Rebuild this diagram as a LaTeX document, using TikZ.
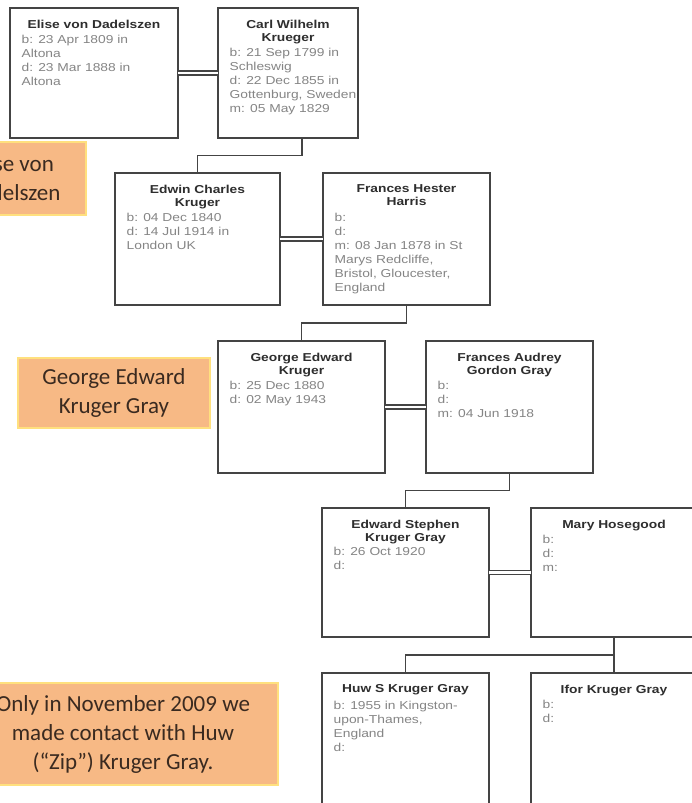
\documentclass[tikz,border=0pt]{standalone}
\usepackage{fontspec}
\newfontfamily\cardfont[FakeStretch=1.2]{Liberation Sans}
\newfontfamily\notefont{Carlito}
\definecolor{cardline}{HTML}{444444}
\definecolor{cardtitle}{HTML}{2E2E2E}
\definecolor{cardtext}{HTML}{858585}
\definecolor{notefill}{HTML}{F7B985}
\definecolor{noteedge}{HTML}{FFE07E}
\definecolor{notetext}{HTML}{3A2A20}

\tikzset{
  card/.style={draw=cardline, line width=1.8pt, fill=white, rectangle, inner sep=0pt, outer sep=0pt},
  cardname/.style={font=\cardfont\bfseries\fontsize{11.5}{13}\selectfont, text=cardtitle, align=center, inner sep=0pt},
  cardinfo/.style={font=\cardfont\fontsize{11.5}{14}\selectfont, text=cardtext, align=left, inner sep=0pt},
  wedlock/.style={draw=cardline, line width=1.5pt, double=white, double distance=2.6pt},
  descent/.style={draw=cardline, line width=1.8pt},
  note/.style={fill=notefill, draw=noteedge, line width=2pt, inner sep=0pt,
    font=\notefont\fontsize{23}{29}\selectfont, text=notetext, align=center}
}

% \famcard{id}{left}{top}{width}{height}{title}{offset of details}{details}
\newcommand{\famcard}[8]{%
  \node[card, minimum width=#4pt, minimum height=#5pt] (#1) at ({#2+#4/2}, {#3+#5/2}) {};
  \node[cardname, anchor=north] (#1-name) at ([yshift=-11.5pt]#1.north) {#6};
  \node[cardinfo, anchor=north west] (#1-info) at ([xshift=11.5pt, yshift=-#7pt]#1.north west) {#8};
}

\begin{document}
\begin{tikzpicture}[x=1pt, y=-1pt]
  \useasboundingbox (0,0) rectangle (692,803);
  \clip (0,0) rectangle (692,803);
  \fill[white] (0,0) rectangle (692,803);

  % generation 1
  \famcard{elise}{10}{8}{168}{130}{Elise von Dadelszen}{26.5}%
    {b: 23 Apr 1809 in\\Altona\\d: 23 Mar 1888 in\\Altona}
  \famcard{carl}{218}{8}{140}{130}{Carl Wilhelm\\Krueger}{40}%
    {b: 21 Sep 1799 in\\Schleswig\\d: 22 Dec 1855 in\\Gottenburg, Sweden\\m: 05 May 1829}

  % generation 2
  \famcard{edwin}{115}{173}{165}{132}{Edwin Charles\\Kruger}{40}%
    {b: 04 Dec 1840\\d: 14 Jul 1914 in\\London UK}
  \famcard{hester}{323}{173}{167}{132}{Frances Hester\\Harris}{40}%
    {b:\\d:\\m: 08 Jan 1878 in St\\Marys Redcliffe,\\Bristol, Gloucester,\\England}

  % generation 3
  \famcard{george}{218}{341}{167}{132}{George Edward\\Kruger}{40}%
    {b: 25 Dec 1880\\d: 02 May 1943}
  \famcard{audrey}{426}{341}{167}{132}{Frances Audrey\\Gordon Gray}{40}%
    {b:\\d:\\m: 04 Jun 1918}

  % generation 4
  \famcard{edward}{322}{508}{167}{129}{Edward Stephen\\Kruger Gray}{39}%
    {b: 26 Oct 1920\\d:}
  \famcard{mary}{531}{508}{166}{129}{Mary Hosegood}{26.5}%
    {b:\\d:\\m:}

  % generation 5
  \famcard{huw}{322}{673}{167}{150}{Huw S Kruger Gray}{28}%
    {b: 1955 in Kingston-\\upon-Thames,\\England\\d:}
  \famcard{ifor}{531}{673}{166}{150}{Ifor Kruger Gray}{27}%
    {b:\\d:}

  % marriages
  \draw[wedlock] (elise.east) -- (carl.west);
  \draw[wedlock] (edwin.east) -- (hester.west);
  \draw[wedlock] (george.east) -- (audrey.west);
  \draw[wedlock] (edward.east) -- (mary.west);

  % descent lines
  \draw[descent] ([xshift=14pt]carl.south) -- ++(0,17.5) -| (edwin.north);
  \draw[descent] (hester.south) -- ++(0,18) -| (george.north);
  \draw[descent] (audrey.south) -- ++(0,17.5) -| (edward.north);
  \draw[descent] (mary.south) -- ++(0,18) -| (huw.north);
  \draw[descent] (mary.south) -- (ifor.north);

  % notes
  \node[note, minimum width=146pt, minimum height=73pt] (noteelise) at (13,178.5) {Elise von\\Dadelszen};
  \node[note, minimum width=192pt, minimum height=70pt] (notegeorge) at (114,393) {George Edward\\Kruger Gray};
  \node[note, minimum width=310pt, minimum height=102pt] (notehuw) at (123,734)
    {Only in November 2009 we\\made contact with Huw\\(“Zip”) Kruger Gray.};
\end{tikzpicture}
\end{document}
